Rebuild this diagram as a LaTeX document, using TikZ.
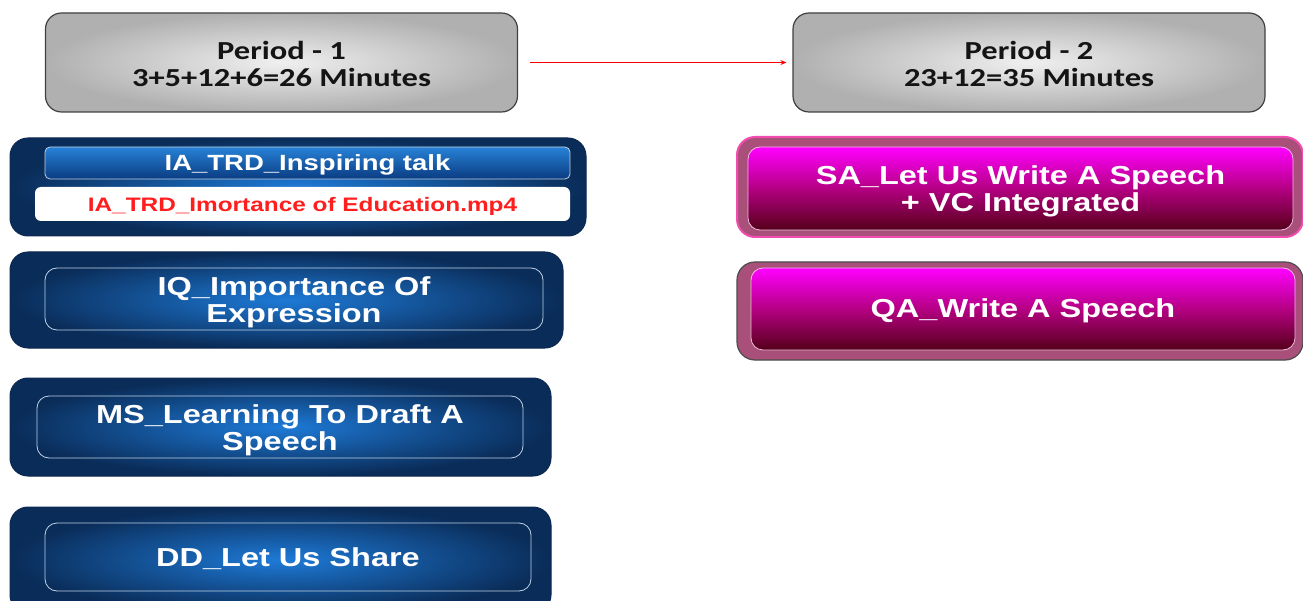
\documentclass[tikz,border=0pt]{standalone}
\usepackage{fontspec}
\setmainfont[FakeStretch=1.25]{Liberation Sans}
\newfontfamily\calib[FakeStretch=1.25]{Carlito}
\usetikzlibrary{arrows.meta}
\definecolor{bluedark}{RGB}{10,44,88}
\definecolor{bluemid}{RGB}{30,122,215}
\definecolor{bluetop}{RGB}{40,130,215}
\definecolor{bluebot}{RGB}{10,60,130}
\definecolor{framelight}{RGB}{190,210,230}
\definecolor{navyedge}{RGB}{12,40,80}
\definecolor{magtop}{RGB}{255,0,255}
\definecolor{magmid}{RGB}{180,0,130}
\definecolor{magbot}{RGB}{85,0,25}
\definecolor{pinkouter}{RGB}{168,80,122}
\definecolor{pinkframe}{RGB}{240,190,225}
\definecolor{redtxt}{RGB}{255,30,30}
\tikzset{
  graybox/.style={draw=black!75, line width=1.2pt, rounded corners=16pt,
    inner color=gray!12, outer color=gray!62, minimum width=472pt, minimum height=99pt},
  graytext/.style={font=\calib\bfseries\fontsize{26}{27}\selectfont, text=black!92, align=center},
  blueouter/.style={draw=navyedge, line width=1pt, rounded corners=18pt,
    inner color=bluemid, outer color=bluedark},
  blueframe/.style={draw=framelight, line width=0.8pt, rounded corners=12pt},
  whitetext/.style={text=white, align=center, font=\bfseries\fontsize{26}{27}\selectfont},
  bluebar/.style={draw=framelight, line width=0.8pt, rounded corners=5pt,
    top color=bluetop, bottom color=bluebot, text=white, text depth=0pt,
    font=\bfseries\fontsize{22}{24}\selectfont},
  whitebar/.style={fill=white, rounded corners=6pt, text=redtxt, text depth=0pt,
    font=\bfseries\fontsize{19.5}{21}\selectfont},
  pinkouter/.style={fill=pinkouter, rounded corners=18pt, line width=1.2pt},
  pinkinner/.style={draw=pinkframe, line width=0.8pt, rounded corners=12pt,
    top color=magtop, bottom color=magbot, middle color=magmid},
  conn/.style={draw=red, line width=1pt, -{Stealth[length=6pt,width=5pt]}}
}
\begin{document}
\begin{tikzpicture}[x=1pt,y=-1pt]
\useasboundingbox (0,0) rectangle (1303,601);
\clip (0,0) rectangle (1303,601);
% headers
\node[graybox] (p1) at (281.5,62.5) {};
\node[graytext] (p1t) at (281.5,64) {Period - 1\\3+5+12+6=26 Minutes};
\node[graybox] (p2) at (1029,62.5) {};
\node[graytext] (p2t) at (1029,64) {Period - 2\\23+12=35 Minutes};
\draw[conn, shorten <=12pt, shorten >=6pt] (p1.east) -- (p2.west);
% IA box
\node[blueouter, minimum width=576pt, minimum height=98pt] (ia) at (298,187) {};
\node[bluebar, minimum width=525pt, minimum height=32pt] (iabar) at (307.5,163) {IA\_TRD\_Inspiring talk};
\node[whitebar, minimum width=535pt, minimum height=34pt] (iavid) at (302.5,204) {IA\_TRD\_Imortance of Education.mp4};
% IQ box
\node[blueouter, minimum width=553pt, minimum height=96pt] (iq) at (286.5,300) {};
\node[blueframe, minimum width=498pt, minimum height=62pt] (iqf) at (294,299) {};
\node[whitetext] (iqt) at (294,302) {IQ\_Importance Of\\Expression};
% MS box
\node[blueouter, minimum width=541pt, minimum height=98pt] (ms) at (280.5,427) {};
\node[blueframe, minimum width=486pt, minimum height=62pt] (msf) at (280,427) {};
\node[whitetext] (mst) at (280,430) {MS\_Learning To Draft A\\Speech};
% DD box
\node[blueouter, minimum width=541pt, minimum height=106pt] (dd) at (280.5,560) {};
\node[blueframe, minimum width=486pt, minimum height=68pt] (ddf) at (288,557) {};
\node[whitetext] (ddt) at (288,559) {DD\_Let Us Share};
% SA box
\node[pinkouter, draw=magenta!70, line width=2pt, minimum width=566pt, minimum height=100pt] (sa) at (1020,187) {};
\node[pinkinner, minimum width=545pt, minimum height=83pt] (saf) at (1020.5,188.5) {};
\node[whitetext] (sat) at (1020.5,191.5) {SA\_Let Us Write A Speech\\+ VC Integrated};
% QA box
\node[pinkouter, draw=black!70, minimum width=566pt, minimum height=98pt] (qa) at (1020,311) {};
\node[pinkinner, minimum width=544pt, minimum height=82pt] (qaf) at (1023,309) {};
\node[whitetext] (qat) at (1023,311) {QA\_Write A Speech};
\end{tikzpicture}
\end{document}
